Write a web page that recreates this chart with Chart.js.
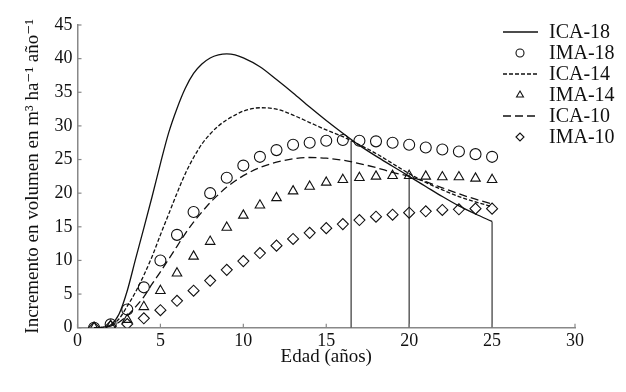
<!DOCTYPE html>
<html><head><meta charset="utf-8">
<script src="https://cdn.jsdelivr.net/npm/chart.js@4"></script>
<style>html,body{margin:0;padding:0;background:#fff}#wrap{width:626px;height:392px}</style>
</head><body><div id="wrap"><canvas id="c" width="626" height="392"></canvas></div>
<script>
// ---- data ----
const icaAges = [1,1.5,2,2.5,3,3.5,4,4.5,5,5.5,6,6.5,7,7.5,8,8.5,9,9.5,10,11,12,13,14,15,16,17,18,19,20,21,22,23,24,25];
const ica18 = [0,0.05,0.4,2.0,5.5,10.2,14.8,19.5,24.4,29.0,32.6,35.6,37.8,39.2,40.1,40.55,40.7,40.55,40.1,38.8,36.9,34.9,32.8,30.8,28.9,27.1,25.5,24.0,22.5,21.0,19.5,18.1,16.9,15.8];
const ica14 = [0,0.05,0.35,1.3,3.2,5.3,7.8,10.6,13.8,16.9,20.0,22.9,25.3,27.3,28.8,30.0,30.9,31.6,32.2,32.7,32.5,31.6,30.5,29.4,28.4,27.2,25.9,24.4,22.9,21.6,20.5,19.5,18.7,18.0];
const ica10 = [0,0.03,0.25,0.8,1.8,3.1,4.6,6.5,8.3,10.2,12.1,14.0,15.7,17.2,18.6,19.8,20.9,21.8,22.6,23.8,24.6,25.1,25.3,25.2,24.9,24.4,23.8,23.1,22.5,21.7,20.8,19.9,19.1,18.4];
const imaAges = [1,2,3,4,5,6,7,8,9,10,11,12,13,14,15,16,17,18,19,20,21,22,23,24,25];
const ima18 = [0,0.5,2.7,6.0,10.0,13.8,17.2,20.0,22.3,24.1,25.4,26.4,27.2,27.5,27.8,27.9,27.8,27.7,27.5,27.2,26.8,26.5,26.2,25.8,25.4];
const ima14 = [0,0.3,1.2,3.1,5.5,8.1,10.6,12.8,14.9,16.7,18.2,19.3,20.3,21.0,21.6,22.0,22.3,22.5,22.6,22.6,22.5,22.4,22.4,22.2,22.0];
const ima10 = [0,0.2,0.55,1.4,2.6,4.0,5.5,7.0,8.6,9.9,11.1,12.2,13.2,14.1,14.8,15.4,16.0,16.5,16.8,17.1,17.3,17.5,17.6,17.7,17.7];
const cutAges = [16.5, 20, 25];
const cutTops = [27.8, 22.7, 15.8];
const seriesNames = ['ICA-18','IMA-18','ICA-14','IMA-14','ICA-10','IMA-10'];
const xTicksMax = 30, yTicksMax = 45;

const pts = (xs, ys) => xs.map((x, i) => ({x, y: ys[i]}));
const FONT = "'Liberation Serif', 'DejaVu Serif', serif";

const lineDs = (label, ys, dash) => ({
  label, data: pts(icaAges, ys), showLine: true, borderColor: '#111', borderWidth: 1.3,
  borderDash: dash, pointRadius: 0, cubicInterpolationMode: 'monotone', fill: false, legendRow: true
});
const markDs = (label, ys, style, r) => ({
  label, data: pts(imaAges, ys), showLine: false, borderColor: '#111', backgroundColor: 'rgba(0,0,0,0)',
  pointStyle: style, pointRadius: r, pointBorderWidth: 1.1, legendRow: true
});
const datasets = [
  lineDs(seriesNames[0], ica18, []),
  markDs(seriesNames[1], ima18, 'circle', 5.5),
  lineDs(seriesNames[2], ica14, [4, 2]),
  markDs(seriesNames[3], ima14, 'triangle', 5.5),
  lineDs(seriesNames[4], ica10, [8, 4]),
  markDs(seriesNames[5], ima10, 'rectRot', 5.5),
];
cutAges.forEach((a, i) => datasets.push({
  label: 'cut' + i, data: [{x: a, y: 0}, {x: a, y: cutTops[i]}], showLine: true,
  borderColor: '#444', borderWidth: 1.3, pointRadius: 0, legendRow: false
}));

const legendPlugin = {
  id: 'customLegend',
  afterDraw(chart) {
    const ctx = chart.ctx;
    ctx.save();
    ctx.font = "20px " + FONT;
    ctx.textBaseline = 'middle';
    let row = 0;
    chart.data.datasets.forEach(ds => {
      if (!ds.legendRow) return;
      const y = 32 + row * 21;
      ctx.strokeStyle = ds.borderColor;
      if (ds.showLine) {
        ctx.lineWidth = ds.borderWidth;
        ctx.setLineDash(ds.borderDash || []);
        ctx.beginPath(); ctx.moveTo(503, y); ctx.lineTo(538, y); ctx.stroke();
        ctx.setLineDash([]);
      } else {
        ctx.fillStyle = 'rgba(0,0,0,0)';
        ctx.lineWidth = 1.1;
        Chart.helpers.drawPoint(ctx, {pointStyle: ds.pointStyle, radius: 4, borderWidth: 1.1, rotation: 0}, 520, y);
      }
      ctx.fillStyle = '#111';
      ctx.fillText(ds.label, 549, y + 1);
      row++;
    });
    ctx.restore();
  }
};

const tickPlugin = {
  id: 'innerTicks',
  afterDatasetsDraw(chart) {
    const ctx = chart.ctx, xs = chart.scales.x, ys = chart.scales.y;
    ctx.save();
    ctx.strokeStyle = '#888'; ctx.lineWidth = 1.2;
    xs.ticks.forEach(t => { const p = xs.getPixelForValue(t.value); ctx.beginPath(); ctx.moveTo(p, ys.bottom); ctx.lineTo(p, ys.bottom - 4); ctx.stroke(); });
    ys.ticks.forEach(t => { const p = ys.getPixelForValue(t.value); ctx.beginPath(); ctx.moveTo(xs.left, p); ctx.lineTo(xs.left + 4, p); ctx.stroke(); });
    ctx.restore();
  }
};

new Chart(document.getElementById('c'), {
  type: 'scatter',
  data: { datasets },
  options: {
    responsive: false, animation: false, devicePixelRatio: 1,
    layout: { padding: { left: 0, right: 51, top: 25, bottom: 0 } },
    plugins: { legend: { display: false }, tooltip: { enabled: false } },
    elements: { line: { tension: 0 } },
    scales: {
      x: {
        type: 'linear', min: 0, max: xTicksMax,
        ticks: { stepSize: 5, color: '#111', padding: 3, font: { family: FONT, size: 18 } },
        grid: { display: false, drawTicks: false },
        border: { display: true, color: '#888', width: 1.5 },
        title: { display: true, text: 'Edad (años)', color: '#111', font: { family: FONT, size: 19 }, padding: { top: 0, bottom: 23.6 } },
        afterFit(s) { s.height = 64.3; }
      },
      y: {
        type: 'linear', min: 0, max: yTicksMax,
        ticks: { stepSize: 5, color: '#111', padding: 5, font: { family: FONT, size: 18 } },
        grid: { display: false, drawTicks: false },
        border: { display: true, color: '#888', width: 1.5 },
        title: { display: true, text: 'Incremento en volumen en m³ ha⁻¹ año⁻¹', color: '#111', font: { family: FONT, size: 19 }, padding: { top: 21.6, bottom: 0 } },
        afterFit(s) { s.width = 77.5; }
      }
    }
  },
  plugins: [legendPlugin, tickPlugin]
});
</script></body></html>
